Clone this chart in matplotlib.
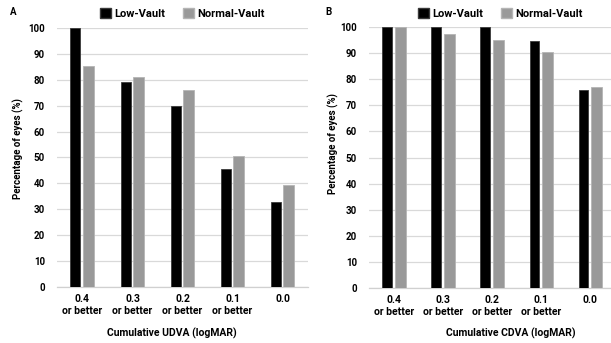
import numpy as np
import matplotlib
matplotlib.use('Agg')
import matplotlib.pyplot as plt
from matplotlib.patches import Patch

plt.rcParams['font.family'] = ['Roboto', 'DejaVu Sans']
plt.rcParams['font.weight'] = 'bold'

# cumulative visual acuity thresholds (logMAR)
categories = ['0.4\nor better', '0.3\nor better', '0.2\nor better', '0.1\nor better', '0.0']

# panel A: uncorrected distance visual acuity, % of eyes
udva_low = [100, 79, 70, 45.5, 33]
udva_normal = [85.5, 81, 76, 50.5, 39.5]

# panel B: corrected distance visual acuity, % of eyes
cdva_low = [100, 100, 100, 94.5, 76]
cdva_normal = [100, 97.5, 95, 90.5, 77]

black = '#000000'
grey = '#999999'


def draw_panel(ax, low, normal):
	x = np.arange(len(categories))
	ax.bar(x - 0.14, low, width=0.2, color=black, edgecolor='#3a3a3a', linewidth=0.6, zorder=3)
	ax.bar(x + 0.125, normal, width=0.22, color=grey, edgecolor='#b5b5b5', linewidth=0.6, zorder=3)
	ax.set_xlim(-0.5, len(categories) - 0.5)
	ax.set_ylim(0, 100)
	ax.set_yticks(range(0, 101, 10))
	ax.set_xticks(x)
	ax.set_xticklabels(categories, fontsize=7.5, linespacing=1.3)
	ax.tick_params(axis='y', length=0, pad=9, labelsize=7)
	ax.tick_params(axis='x', length=0, pad=5)
	ax.grid(axis='y', color='#d9d9d9', linewidth=0.9, zorder=0)
	for side in ['top', 'right', 'left']:
		ax.spines[side].set_visible(False)
	ax.spines['bottom'].set_color('#d0d0d0')
	ax.spines['bottom'].set_linewidth(0.9)


fig = plt.figure(figsize=(6.11, 3.43), dpi=100)
axA = fig.add_axes([0.0941, 0.1633, 0.4092, 0.7551])
axB = fig.add_axes([0.6047, 0.1603, 0.4018, 0.7610])

draw_panel(axA, udva_low, udva_normal)
draw_panel(axB, cdva_low, cdva_normal)

fig.text(18 / 611, 1 - 149 / 343, 'Percentage of eyes (%)', rotation=90, ha='center', va='center', fontsize=7)
fig.text(333 / 611, 1 - 144 / 343, 'Percentage of eyes (%)', rotation=90, ha='center', va='center', fontsize=7)

fig.text(172 / 611, 1 - 333 / 343, 'Cumulative UDVA (logMAR)', ha='center', va='center', fontsize=7.5)
fig.text(511 / 611, 1 - 333 / 343, 'Cumulative CDVA (logMAR)', ha='center', va='center', fontsize=7.5)

fig.text(13 / 611, 1 - 12 / 343, 'A', ha='center', va='center', fontsize=7)
fig.text(329 / 611, 1 - 12 / 343, 'B', ha='center', va='center', fontsize=7)

handles = [Patch(facecolor=black, edgecolor='#3a3a3a', label='Low-Vault'),
	Patch(facecolor=grey, edgecolor='#b5b5b5', label='Normal-Vault')]
for cx in [182.5 / 611, 500.5 / 611]:
	fig.legend(handles=handles, loc='center', bbox_to_anchor=(cx, 1 - 13.5 / 343), ncol=2,
		frameon=False, fontsize=8, handlelength=1.0, handleheight=1.0, handletextpad=0.3,
		columnspacing=1.6, borderpad=0)

fig.savefig('out.png', dpi=100)
